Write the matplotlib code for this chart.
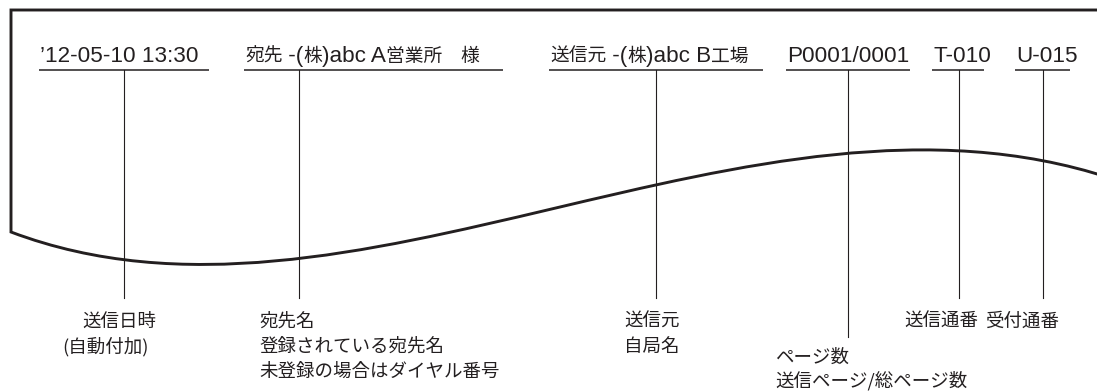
import matplotlib
matplotlib.use('Agg')
import matplotlib.pyplot as plt
from matplotlib.path import Path
from matplotlib.patches import PathPatch

# header printed across the top of the received sheet
header_labels = ['\u201912-05-10 13:30', '宛先 -(株)abc A営業所\u3000様',
                 '送信元 -(株)abc B工場', 'P0001/0001', 'T-010', 'U-015']
# explanation under each field
note_lines = [
    ['送信日時', '(自動付加)'],
    ['宛先名', '登録されている宛先名', '未登録の場合はダイヤル番号'],
    ['送信元', '自局名'],
    ['ページ数', '送信ページ/総ページ数'],
    ['送信通番'],
    ['受付通番'],
]

# layout in pixels (axes are set up 1:1 with the output image)
underline = [(39, 209), (244, 503), (549, 763), (786, 910), (932, 984), (1015, 1070)]
leader_x = [124, 299, 656, 848, 959, 1043]
leader_end = [298, 298, 298, 337, 298, 298]
note_x = [[82, 62], [259, 259, 259], [624, 624], [775, 775], [904], [985]]
note_y = [[322, 347], [322, 347, 372], [322, 347], [358, 381], [322], [322]]

INK = '#231f20'
LATIN = ['Liberation Sans', 'Noto Sans CJK JP']
CJK = ['Noto Sans CJK JP', 'DejaVu Sans']

fig = plt.figure(figsize=(10.97, 3.92), dpi=100)
ax = fig.add_axes([0, 0, 1, 1])
ax.set_xlim(0, 1097)
ax.set_ylim(392, 0)
ax.axis('off')

# torn sheet outline: top edge, left edge, wavy bottom
sheet = Path(
    [(1110, 10), (11, 10), (11, 232), (350, 360), (750, 60), (1110, 178)],
    [Path.MOVETO, Path.LINETO, Path.LINETO, Path.CURVE4, Path.CURVE4, Path.CURVE4],
)
ax.add_patch(PathPatch(sheet, fill=False, lw=2.1, ec=INK, joinstyle='miter'))

fig.canvas.draw()
renderer = fig.canvas.get_renderer()


def is_cjk(ch):
    return ord(ch) >= 0x2E80


def draw_mixed(x, y, s):
    # latin runs are set larger than kana/kanji, as in the printout
    runs = []
    for ch in s:
        kind = is_cjk(ch)
        if runs and runs[-1][0] == kind:
            runs[-1][1] += ch
        else:
            runs.append([kind, ch])
    for kind, txt in runs:
        t = ax.text(x, y, txt, va='baseline', ha='left', color=INK,
                    family=CJK if kind else LATIN, size=13.5 if kind else 16.2)
        x += t.get_window_extent(renderer).width


for label, (x0, x1), lx, ly in zip(header_labels, underline, leader_x, leader_end):
    draw_mixed(x0 + 1, 62, label)
    ax.plot([x0, x1], [70, 70], color=INK, lw=1.1, solid_capstyle='butt')
    ax.plot([lx, lx], [70, ly], color=INK, lw=0.8)

for lines, xs, ys in zip(note_lines, note_x, note_y):
    for txt, x, y in zip(lines, xs, ys):
        ax.text(x, y, txt, va='center', ha='left', color=INK,
                family=CJK, size=13.3)

fig.savefig('out.png', dpi=100)
